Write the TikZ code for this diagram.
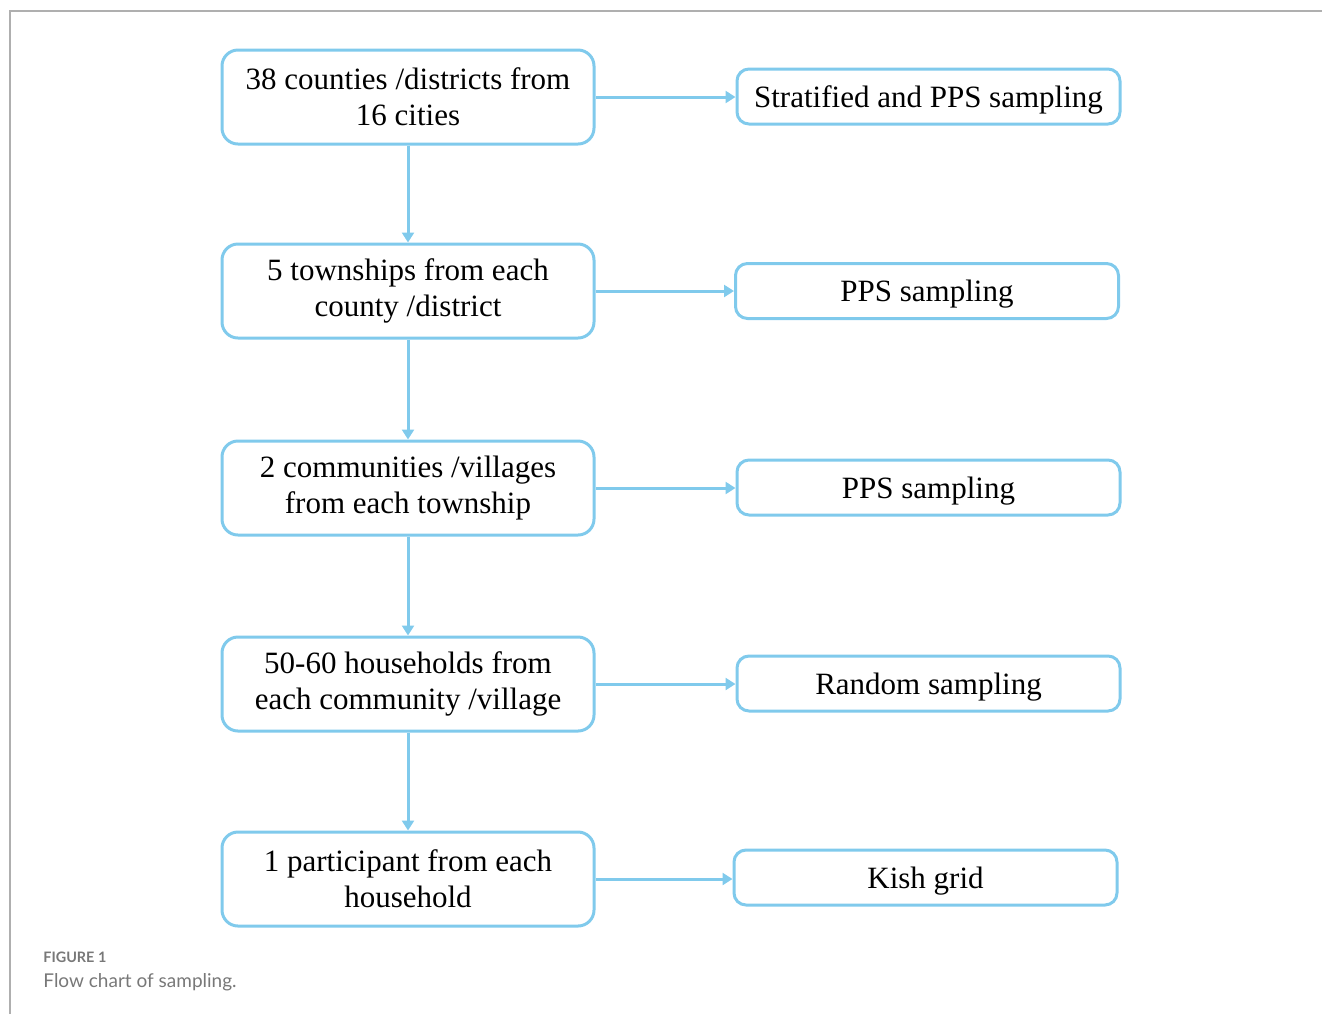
\documentclass[tikz,border=0pt]{standalone}
\usepackage{fontspec}
\setmainfont{Liberation Serif}
\newfontfamily\captionfont{Lato}
\definecolor{flowBlue}{RGB}{128,202,236}
\definecolor{frameGray}{RGB}{175,175,175}
\definecolor{capGray}{RGB}{120,120,120}
\usetikzlibrary{arrows.meta,positioning}

\begin{document}
\begin{tikzpicture}[x=0.5pt, y=-0.5pt,
    stagebox/.style={draw=flowBlue, line width=1.5pt, rounded corners=8pt,
      minimum width=186pt, minimum height=47pt, align=center,
      font=\fontsize{15.5}{18}\selectfont},
    methodbox/.style={draw=flowBlue, line width=1.5pt, rounded corners=6pt,
      minimum width=191.5pt, minimum height=27.5pt, align=center,
      text height=10.5pt, text depth=0pt,
      font=\fontsize{15.5}{18}\selectfont},
    flowarrow/.style={draw=flowBlue, line width=1.5pt,
      -{Triangle[length=5pt,width=6pt]}}]
    % Page size and frame
    \useasboundingbox (0,0) rectangle (1322,1014);
    \draw[frameGray, line width=0.75pt] (10,1014) -- (10,11) -- (1322,11);

    % Sampling stages (left column)
    \node[stagebox] (county) at (408,97) {38 counties /districts from\\16 cities};
    \node[stagebox] (town) at (408,291) {5 townships from each\\county /district};
    \node[stagebox] (village) at (408,488) {2 communities /villages\\from each township};
    \node[stagebox] (house) at (408,684) {50-60 households from\\each community /village};
    \node[stagebox] (person) at (408,879) {1 participant from each\\household};

    % Sampling methods (right column)
    \node[methodbox] (strat) at (928.5,96.5) {Stratified and PPS sampling};
    \node[methodbox] (ppsA) at (927,291) {PPS sampling};
    \node[methodbox] (ppsB) at (928.5,487.5) {PPS sampling};
    \node[methodbox] (random) at (928.5,683.5) {Random sampling};
    \node[methodbox] (kish) at (925.5,877.5) {Kish grid};

    % Down the stages
    \draw[flowarrow] (county) -- (town);
    \draw[flowarrow] (town) -- (village);
    \draw[flowarrow] (village) -- (house);
    \draw[flowarrow] (house) -- (person);

    % Stage to method
    \draw[flowarrow] (county.east) -- (county.east -| strat.west);
    \draw[flowarrow] (town.east) -- (town.east -| ppsA.west);
    \draw[flowarrow] (village.east) -- (village.east -| ppsB.west);
    \draw[flowarrow] (house.east) -- (house.east -| random.west);
    \draw[flowarrow] (person.east) -- (person.east -| kish.west);

    % Caption
    \node[capGray, anchor=base west, inner sep=0pt,
      font=\captionfont\bfseries\fontsize{7.2}{8}\selectfont]
      (figlabel) at (43,962) {FIGURE 1};
    \node[capGray, anchor=base west, inner sep=0pt,
      font=\captionfont\fontsize{9.5}{11}\selectfont]
      (figtitle) at (43,987) {Flow chart of sampling.};
\end{tikzpicture}
\end{document}
